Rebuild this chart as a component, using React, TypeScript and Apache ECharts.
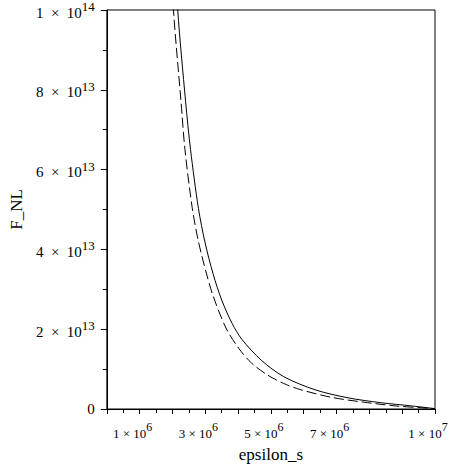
import React, { useEffect, useRef } from "react";
import * as echarts from "echarts";

// epsilon_s values and F_NL values
const epsSolid = [2.0e6, 2.16e6, 2.4e6, 2.55e6, 2.79e6, 2.99e6, 3.24e6, 3.5e6, 3.82e6, 4.12e6, 4.71e6, 5.39e6, 6.37e6, 7.35e6, 8.33e6, 9.31e6, 1.0e7];
const fSolid = [125e12, 100e12, 77e12, 65e12, 50.3e12, 41.8e12, 33.8e12, 27.3e12, 21.4e12, 17.4e12, 12.2e12, 8.1e12, 4.75e12, 2.8e12, 1.6e12, 0.75e12, 0.1e12];

const epsDashed = [1.9e6, 2.03e6, 2.26e6, 2.38e6, 2.6e6, 2.79e6, 3.04e6, 3.24e6, 3.63e6, 4.02e6, 4.41e6, 4.9e6, 5.39e6, 5.88e6, 6.86e6, 7.84e6, 8.82e6, 9.6e6, 1.0e7];
const fDashed = [122e12, 100e12, 77e12, 65e12, 50.5e12, 42e12, 33.8e12, 28.3e12, 20.3e12, 15.2e12, 11.5e12, 8.5e12, 6.4e12, 4.9e12, 2.9e12, 1.7e12, 0.75e12, 0.3e12, 0.05e12];

const xLabeled = [1e6, 3e6, 5e6, 7e6, 1e7];
const yTicks = [0, 2e13, 4e13, 6e13, 8e13, 1e14];

const FONT = "'Liberation Serif', 'DejaVu Serif', serif";

function sci(v: number, wide: boolean): string {
  if (v === 0) return "{b|0}";
  const exp = Math.floor(Math.log10(v) + 1e-9);
  const mant = Math.round(v / Math.pow(10, exp));
  const sp = wide ? "\u00a0\u00a0" : " ";
  return "{b|" + mant + sp + "\u00d7" + sp + "10}{s|" + exp + "}";
}

const richX = {
  b: { fontSize: 13, fontFamily: FONT, color: "#000", verticalAlign: "bottom" },
  s: { fontSize: 12, fontFamily: FONT, color: "#000", verticalAlign: "top", padding: [0, 0, 7, 0] },
};
const richY = {
  b: { fontSize: 15, fontFamily: FONT, color: "#000", verticalAlign: "bottom" },
  s: { fontSize: 13, fontFamily: FONT, color: "#000", verticalAlign: "top", padding: [0, 0, 7, 0] },
};

export default function App() {
  const ref = useRef<HTMLDivElement>(null);
  useEffect(() => {
    if (!ref.current) return;
    const chart = echarts.init(ref.current, undefined, { renderer: "svg" });
    chart.setOption({
      animation: false,
      backgroundColor: "#fff",
      grid: {
        left: 95,
        right: 25,
        top: 9,
        bottom: 60,
        show: true,
        borderColor: "#000",
        borderWidth: 1,
        backgroundColor: "transparent",
      },
      xAxis: {
        type: "value",
        min: 0,
        max: 1e7,
        interval: 1e6,
        name: "epsilon_s",
        nameLocation: "middle",
        nameGap: 37,
        nameTextStyle: { fontSize: 17, fontFamily: FONT, color: "#000" },
        axisLine: { show: true, onZero: false, lineStyle: { color: "#000", width: 1 } },
        axisTick: { show: true, length: 5, lineStyle: { color: "#000" } },
        minorTick: { show: true, splitNumber: 2, length: 4, lineStyle: { color: "#000" } },
        splitLine: { show: false },
        axisLabel: {
          margin: 12,
          padding: [0, 14, 0, 0],
          formatter: (v: number) => (xLabeled.some((t) => Math.abs(t - v) < 1) ? sci(v, false) : ""),
          rich: richX,
        },
      },
      yAxis: {
        type: "value",
        min: 0,
        max: 1e14,
        interval: 2e13,
        name: "F_NL",
        nameLocation: "middle",
        nameRotate: 90,
        nameGap: 80,
        nameTextStyle: { fontSize: 17, fontFamily: FONT, color: "#000" },
        axisLine: { show: true, lineStyle: { color: "#000", width: 1 } },
        axisTick: { show: true, length: 6, lineStyle: { color: "#000" } },
        minorTick: { show: true, splitNumber: 2, length: 4, lineStyle: { color: "#000" } },
        splitLine: { show: false },
        axisLabel: {
          margin: 12,
          formatter: (v: number) => (yTicks.some((t) => Math.abs(t - v) < 1) ? sci(v, true) : ""),
          rich: richY,
        },
      },
      series: [
        {
          type: "line",
          data: epsSolid.map((e, i) => [e, fSolid[i]]),
          symbol: "none",
          smooth: 0.3,
          clip: true,
          lineStyle: { color: "#000", width: 1, type: "solid" },
        },
        {
          type: "line",
          data: epsDashed.map((e, i) => [e, fDashed[i]]),
          symbol: "none",
          smooth: 0.3,
          clip: true,
          lineStyle: { color: "#000", width: 1, type: [10, 4] },
        },
      ],
    });
    return () => chart.dispose();
  }, []);
  return (
    <div
      ref={ref}
      style={{ position: "absolute", left: 0, top: 0, width: 460, height: 469, background: "#fff" }}
    />
  );
}
